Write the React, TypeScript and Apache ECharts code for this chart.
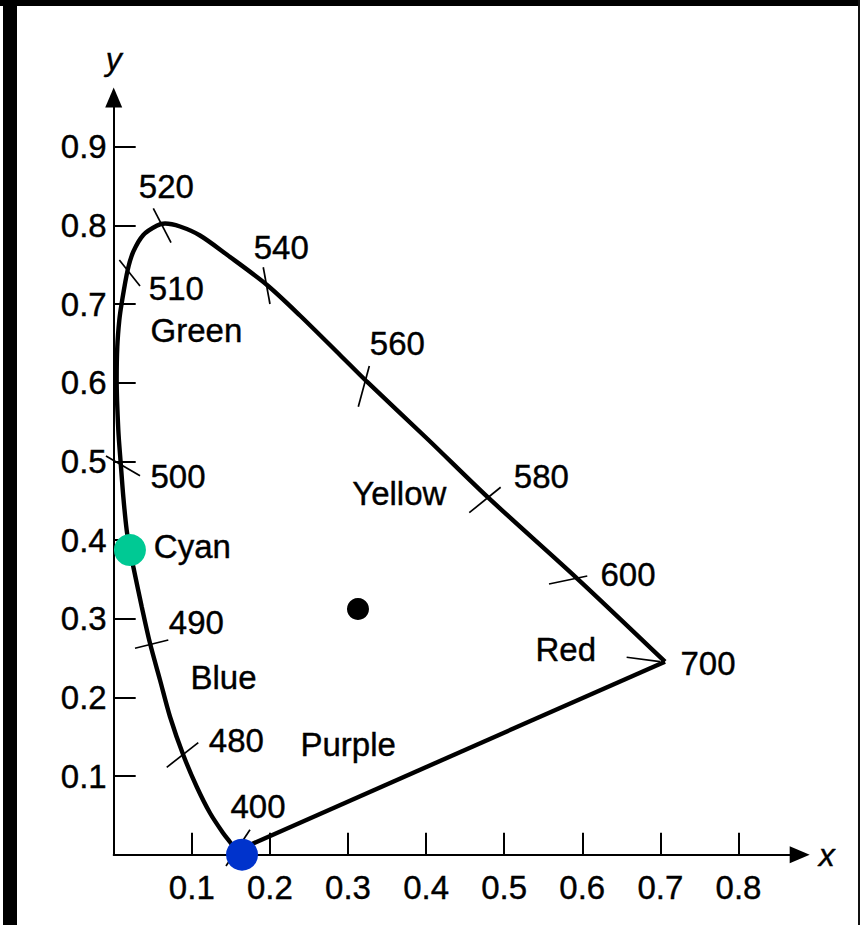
import React, { useEffect, useRef } from "react";
import * as echarts from "echarts";

const FONT = "'Liberation Sans', Arial, Helvetica, sans-serif";

// Axis tick values
const xTicks = [0.1, 0.2, 0.3, 0.4, 0.5, 0.6, 0.7, 0.8];
const yTicks = [0.1, 0.2, 0.3, 0.4, 0.5, 0.6, 0.7, 0.8, 0.9];

// Spectral locus (400 nm -> 520 nm peak -> 700 nm)
const locus: number[][] = [
  [0.1585, 0.0034], [0.1489, 0.0162], [0.14, 0.0276], [0.1233, 0.053],
  [0.1063, 0.0864], [0.0891, 0.1267], [0.0721, 0.1754], [0.0593, 0.2221],
  [0.0465, 0.2687], [0.0359, 0.3153], [0.0251, 0.3661], [0.0208, 0.3873],
  [0.0166, 0.4128], [0.0123, 0.4551], [0.009, 0.4976], [0.0059, 0.5399],
  [0.0038, 0.6035], [0.0046, 0.6458], [0.0072, 0.6798], [0.0102, 0.701],
  [0.0179, 0.7434], [0.0251, 0.7666], [0.0379, 0.7879], [0.0551, 0.7996],
  [0.0657, 0.8024], [0.0849, 0.7986], [0.1105, 0.7872], [0.1447, 0.763],
  [0.1963, 0.7243], [0.2385, 0.6855], [0.2898, 0.6353], [0.3243, 0.6013],
  [0.4018, 0.5285], [0.4796, 0.4539], [0.5932, 0.3514], [0.7059, 0.2454],
];

// Line of purples (700 -> 400)
const purpleLine: number[][] = [
  [0.7059, 0.2454],
  [0.1656, 0.0086],
];

// Wavelength tick marks across the locus
const waveTicks: number[][][] = [
  [[0.1438, -0.0143], [0.1745, 0.0316]],
  [[0.0679, 0.1111], [0.1083, 0.1424]],
  [[0.0273, 0.2624], [0.0699, 0.273]],
  [[-0.0099, 0.5069], [0.0337, 0.4818]],
  [[0.0072, 0.756], [0.0337, 0.723]],
  [[0.0507, 0.8218], [0.0734, 0.778]],
  [[0.1915, 0.7468], [0.2001, 0.7001]],
  [[0.3273, 0.6213], [0.3132, 0.5695]],
  [[0.4553, 0.4348], [0.4955, 0.4671]],
  [[0.5574, 0.3441], [0.6064, 0.3543]],
  [[0.6568, 0.251], [0.6995, 0.2454]],
];

// Text labels and their anchors
const labelNames = [
  "520", "540", "510", "Green", "560", "Yellow", "580", "600", "Red",
  "700", "500", "Cyan", "490", "Blue", "480", "Purple", "400",
];
const labelPos: number[][] = [
  [0.0315, 0.8489], [0.1787, 0.7713], [0.0443, 0.7192], [0.0465, 0.6658],
  [0.3273, 0.6504], [0.3047, 0.4586], [0.5117, 0.4805], [0.6227, 0.3556],
  [0.5394, 0.2609], [0.7251, 0.2433], [0.0465, 0.4805], [0.0507, 0.3924],
  [0.0699, 0.2952], [0.0977, 0.2253], [0.1211, 0.1458], [0.2385, 0.1395],
  [0.1489, 0.0619],
];

// Highlighted points
const spotPos: number[][] = [
  [0.0208, 0.3873],
  [0.1643, 0.0],
  [0.3128, 0.3124],
];
const spotColors = ["#00c994", "#0033cc", "#000000"];
const spotSizes = [32, 32, 22];

const textCommon = {
  color: "#000",
  fontFamily: FONT,
  fontSize: 33,
  textBorderColor: "#000",
  textBorderWidth: 0.4,
};

export default function App() {
  const ref = useRef<HTMLDivElement>(null);

  useEffect(() => {
    if (!ref.current) return;
    const chart = echarts.init(ref.current, undefined, { renderer: "svg" });

    const axisCommon = {
      type: "value" as const,
      min: 0,
      splitLine: { show: false },
      axisLine: {
        show: true,
        onZero: false,
        symbol: ["none", "triangle"],
        symbolSize: [17, 20],
        lineStyle: { color: "#000", width: 2 },
      },
      nameMoveOverlap: false,
    };

    chart.setOption({
      animation: false,
      backgroundColor: "#ffffff",
      grid: {
        left: 113.7,
        top: 97.6,
        right: 60.3,
        bottom: 70.3,
        outerBoundsMode: "none",
      },
      xAxis: {
        ...axisCommon,
        max: 0.8784,
        name: "x",
        nameLocation: "end",
        nameGap: 19,
        nameTextStyle: {
          ...textCommon,
          fontSize: 32,
          fontStyle: "italic",
          align: "left",
          verticalAlign: "middle",
        },
        axisTick: {
          show: true,
          inside: true,
          length: 22,
          customValues: xTicks,
          lineStyle: { color: "#000", width: 2 },
        },
        axisLabel: {
          show: true,
          customValues: xTicks,
          margin: 16,
          ...textCommon,
          formatter: (v: number) => v.toFixed(1),
        },
      },
      yAxis: {
        ...axisCommon,
        max: 0.9625,
        name: "y",
        nameLocation: "end",
        nameGap: 38.6,
        nameTextStyle: {
          ...textCommon,
          fontSize: 32,
          fontStyle: "italic",
          align: "center",
          verticalAlign: "middle",
        },
        axisTick: {
          show: true,
          inside: true,
          length: 22,
          customValues: yTicks,
          lineStyle: { color: "#000", width: 2 },
        },
        axisLabel: {
          show: true,
          customValues: yTicks,
          margin: 7,
          padding: [8, 0, 0, 0],
          ...textCommon,
          formatter: (v: number) => v.toFixed(1),
        },
      },
      graphic: [
        { type: "rect", shape: { x: 0, y: 0, width: 860, height: 6 }, style: { fill: "#000" }, z: 100 },
        { type: "rect", shape: { x: 3, y: 0, width: 14, height: 925 }, style: { fill: "#000" }, z: 100 },
        { type: "rect", shape: { x: 858, y: 0, width: 2, height: 925 }, style: { fill: "#111" }, z: 100 },
      ],
      series: [
        {
          type: "lines",
          coordinateSystem: "cartesian2d",
          clip: false,
          silent: true,
          lineStyle: { color: "#000", width: 1.7, opacity: 1, curveness: 0 },
          data: waveTicks.map((c) => ({ coords: c })),
          z: 2,
        },
        {
          type: "line",
          data: locus,
          smooth: 0.3,
          showSymbol: false,
          clip: false,
          silent: true,
          lineStyle: { color: "#000", width: 4.4, opacity: 1 },
          z: 3,
        },
        {
          type: "line",
          data: purpleLine,
          showSymbol: false,
          clip: false,
          silent: true,
          lineStyle: { color: "#000", width: 4.4, opacity: 1 },
          z: 3,
        },
        {
          type: "scatter",
          silent: true,
          clip: false,
          symbolSize: 1,
          itemStyle: { color: "rgba(0,0,0,0)", opacity: 1 },
          data: labelNames.map((n, i) => ({ name: n, value: labelPos[i] })),
          label: {
            show: true,
            position: "right",
            distance: 0,
            formatter: "{b}",
            ...textCommon,
          },
          z: 4,
        },
        {
          type: "scatter",
          silent: true,
          clip: false,
          data: spotPos.map((p, i) => ({
            value: p,
            symbolSize: spotSizes[i],
            itemStyle: { color: spotColors[i], opacity: 1 },
          })),
          z: 5,
        },
      ],
    });

    return () => chart.dispose();
  }, []);

  return (
    <div
      ref={ref}
      style={{ position: "absolute", left: 0, top: 0, width: 860, height: 925 }}
    />
  );
}
